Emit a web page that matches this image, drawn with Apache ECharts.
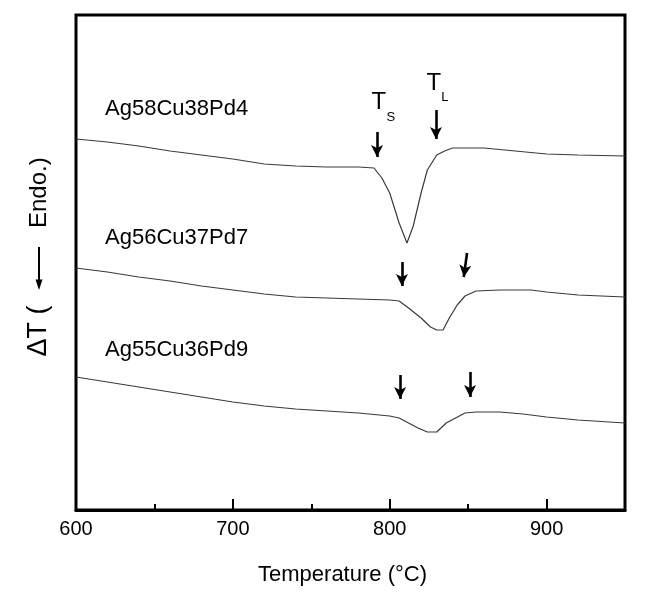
<!DOCTYPE html>
<html><head><meta charset="utf-8">
<script src="https://cdn.jsdelivr.net/npm/echarts@6/dist/echarts.min.js"></script>
<style>html,body{margin:0;padding:0;background:#fff}#c{width:647px;height:609px}</style>
</head><body><div id="c"></div>
<script>
// Sample names
const seriesNames = ['Ag58Cu38Pd4', 'Ag56Cu37Pd7', 'Ag55Cu36Pd9'];
// DTA curves (temperature °C, ΔT arbitrary units)
const tempsA = [600,620,640,660,680,700,720,740,760,780,790,795,800,806,811,815,820,824,830,835,840,860,880,900,920,950];
const valsA  = [74.2,73.6,72.8,71.8,71.0,70.2,69.2,68.8,68.6,68.6,68.4,66.4,63.4,57.4,53.4,56.8,63.4,68.0,71.0,71.8,72.4,72.4,71.8,71.2,71.0,70.8];
const tempsB = [600,620,640,660,680,700,720,740,760,780,800,806,812,820,826,830,834,838,843,848,855,870,890,900,920,950];
const valsB  = [48.4,47.6,46.6,45.8,44.8,44.0,43.2,42.6,42.4,42.2,42.0,41.8,40.4,38.4,36.6,36.0,36.0,38.4,41.0,42.8,43.8,44.0,44.0,43.6,43.0,42.6];
const tempsC = [600,620,640,660,680,700,720,740,760,780,800,806,812,818,824,830,836,842,848,855,870,885,900,920,950];
const valsC  = [26.6,25.6,24.6,23.6,22.6,21.6,20.8,20.2,19.8,19.4,18.8,18.4,17.4,16.4,15.6,15.6,17.4,18.4,19.4,19.6,19.6,19.2,18.6,18.0,17.4];
// Sample label anchors (temperature, ΔT)
const labelTemp = 618.5;
const labelVals = [80.2, 54.5, 32.0];
// Solidus / liquidus arrows per curve: [T start, v start, T end, v end]
const arrowsA = [[791.9, 75.6, 791.9, 70.6], [829.5, 80.0, 829.5, 74.2]];
const arrowsB = [[807.8, 49.6, 807.8, 44.8], [849.3, 51.4, 847.2, 46.6]];
const arrowsC = [[806.6, 27.0, 806.6, 22.2], [851.2, 27.6, 851.2, 22.6]];
// T_S / T_L annotation text anchors on first curve: [T, v, text, size]
const tsLabels = [[793.0, 81.6, 'T', 24], [800.7, 78.6, 'S', 13], [828.2, 85.4, 'T', 24], [835.2, 82.6, 'L', 13]];
// X tick labels
const xTicks = [600, 700, 800, 900];

const FONT = 'Liberation Sans, Arial, sans-serif';
const zip = (t, v) => t.map((x, i) => [x, v[i]]);

function mkSeries(i, temps, vals, arrows, extra) {
  return {
    name: seriesNames[i], type: 'line', data: zip(temps, vals),
    showSymbol: false, symbol: 'none', silent: true,
    lineStyle: {color: '#3a3a3a', width: 1.2},
    markLine: {
      silent: true, symbol: ['none', 'arrow'], symbolSize: [9, 12],
      lineStyle: {color: '#000', width: 2.6, type: 'solid'},
      label: {show: false},
      data: arrows.map(a => [{coord: [a[0], a[1]]}, {coord: [a[2], a[3]]}])
    },
    markPoint: {
      silent: true, symbol: 'circle', symbolSize: 0,
      data: [{coord: [labelTemp, labelVals[i]], value: seriesNames[i],
        label: {show: true, position: 'inside', align: 'left', verticalAlign: 'middle',
          formatter: seriesNames[i], fontSize: 22, color: '#000', fontFamily: FONT}}].concat(extra || [])
    }
  };
}

const tsData = tsLabels.map(d => ({coord: [d[0], d[1]], value: d[2],
  label: {show: true, position: 'inside', align: 'center', verticalAlign: 'middle',
    formatter: d[2], fontSize: d[3], color: '#000', fontFamily: FONT}}));

const chart = echarts.init(document.getElementById('c'), null, {renderer: 'canvas'});
chart.setOption({
  animation: false,
  backgroundColor: '#fff',
  grid: {left: 76, right: 22, top: 15, bottom: 99, show: true, borderColor: '#000', borderWidth: 3, backgroundColor: 'transparent'},
  xAxis: {
    type: 'value', min: 600, max: 950, interval: 100,
    axisLine: {show: true, lineStyle: {color: '#000', width: 3}},
    axisTick: {show: true, inside: true, length: 11, lineStyle: {color: '#000', width: 2}},
    minorTick: {show: true, splitNumber: 2, length: 6, lineStyle: {color: '#000', width: 2}},
    splitLine: {show: false}, minorSplitLine: {show: false},
    axisLabel: {fontSize: 20, color: '#000', margin: 9, fontFamily: FONT,
      formatter: v => xTicks.indexOf(v) >= 0 ? String(v) : ''},
    name: 'Temperature (°C)', nameLocation: 'middle', nameGap: 54,
    nameTextStyle: {fontSize: 22, color: '#000', fontFamily: FONT, padding: [0, 16, 0, 0]}
  },
  yAxis: {
    type: 'value', min: 0, max: 99,
    axisLine: {show: false}, axisTick: {show: false}, axisLabel: {show: false}, splitLine: {show: false}
  },
  graphic: [{
    type: 'group', x: 39, y: 251.5, rotation: Math.PI / 2,
    children: [
      {type: 'text', x: -105, y: 0, style: {text: 'ΔT (', fontSize: 27, fontFamily: FONT, fill: '#000', textVerticalAlign: 'middle', textAlign: 'left'}},
      {type: 'line', shape: {x1: -30, y1: 0, x2: 4.5, y2: 0}, style: {stroke: '#000', lineWidth: 2}},
      {type: 'polygon', shape: {points: [[-38.5, 0], [-28, -3.5], [-28, 3.5]]}, style: {fill: '#000'}},
      {type: 'text', x: 23.5, y: 0, style: {text: 'Endo.)', fontSize: 24, fontFamily: FONT, fill: '#000', textVerticalAlign: 'middle', textAlign: 'left'}}
    ]
  }],
  series: [
    mkSeries(0, tempsA, valsA, arrowsA, tsData),
    mkSeries(1, tempsB, valsB, arrowsB),
    mkSeries(2, tempsC, valsC, arrowsC)
  ]
});
</script></body></html>
